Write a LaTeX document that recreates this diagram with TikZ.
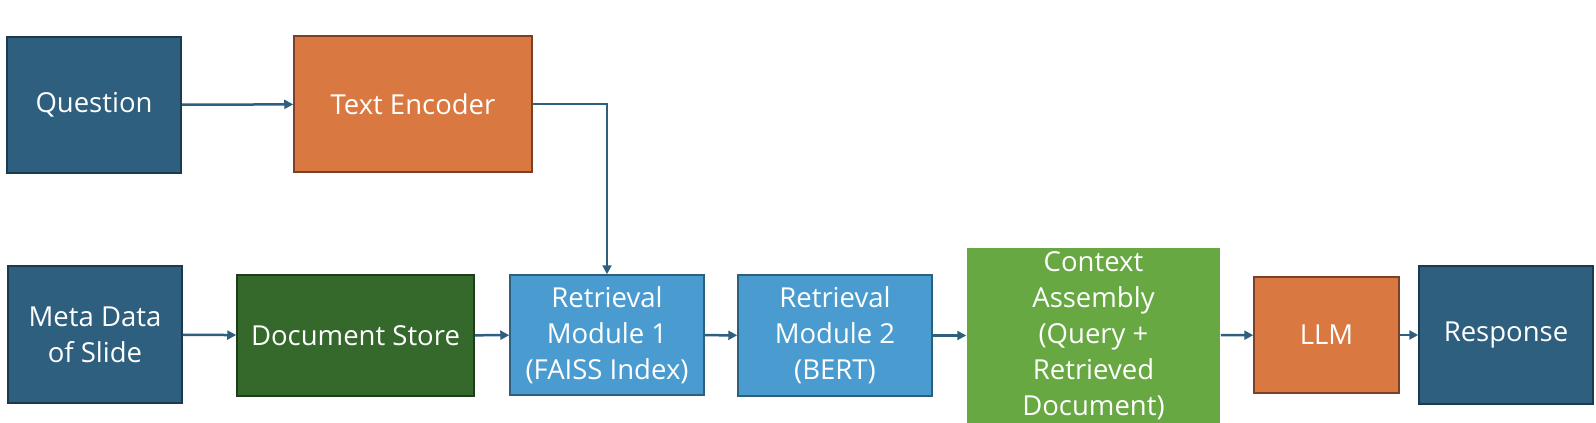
\documentclass[tikz,border=0pt]{standalone}
\usepackage{fontspec}
\setmainfont{Open Sans}
\usetikzlibrary{shapes,arrows,arrows.meta}

\definecolor{darkblue}{HTML}{2E5F7F}
\definecolor{darkblueline}{HTML}{1B3A4F}
\definecolor{encorange}{HTML}{D97941}
\definecolor{orangeline}{HTML}{7A4028}
\definecolor{storegreen}{HTML}{35692C}
\definecolor{storeline}{HTML}{1E3D1A}
\definecolor{lightblue}{HTML}{4A9CD0}
\definecolor{contextgreen}{HTML}{67A842}

\begin{document}
\begin{tikzpicture}[x=1pt,y=-1pt,
		block/.style={rectangle, draw, line width=1.5pt, text=white, align=center,
			inner sep=0pt, font=\fontsize{27.5}{36}\selectfont},
		inputbox/.style={block, fill=darkblue, draw=darkblueline},
		encbox/.style={block, fill=encorange, draw=orangeline},
		storebox/.style={block, fill=storegreen, draw=storeline},
		retbox/.style={block, fill=lightblue, draw=darkblue},
		ctxbox/.style={block, fill=contextgreen, draw=none},
		flow/.style={line width=2.5pt, color=darkblue, ->, >={Triangle[length=9pt, width=9pt]}}]
		\useasboundingbox (0,0) rectangle (1596,423);
		
		\node[inputbox, minimum width=174pt, minimum height=136pt] at (94, 105) (question) {Question};
		\node[encbox, minimum width=238pt, minimum height=136pt] at (413, 104) (encoder) {Text Encoder};
		
		\node[inputbox, minimum width=174pt, minimum height=137pt] at (95, 334.5) (meta) {Meta Data\\of Slide};
		\node[storebox, minimum width=237pt, minimum height=121pt] at (355.5, 335.5) (store) {Document Store};
		\node[retbox, minimum width=194pt, minimum height=120pt] at (607, 335) (ret1) {Retrieval\\Module 1\\(FAISS Index)};
		\node[retbox, minimum width=194pt, minimum height=121pt] at (835, 335.5) (ret2) {Retrieval\\Module 2\\(BERT)};
		\node[ctxbox, minimum width=253pt, minimum height=175pt] at (1093.5, 335.5) (context) {Context\\Assembly\\(Query +\\Retrieved\\Document)};
		\node[encbox, minimum width=145pt, minimum height=116pt] at (1326.5, 335) (llm) {LLM};
		\node[inputbox, minimum width=174pt, minimum height=138pt] at (1506, 335) (response) {Response};
		
		\draw[flow] (question) -- (encoder);
		\draw[flow, line width=2pt] (encoder.east) -| (ret1.north);
		\draw[flow] (meta) -- (store);
		\draw[flow] (store) -- (ret1);
		\draw[flow] (ret1) -- (ret2);
		\draw[flow] (ret2) -- (context);
		\draw[flow] (context) -- (llm);
		\draw[flow] (llm) -- (response);
	\end{tikzpicture}
\end{document}
